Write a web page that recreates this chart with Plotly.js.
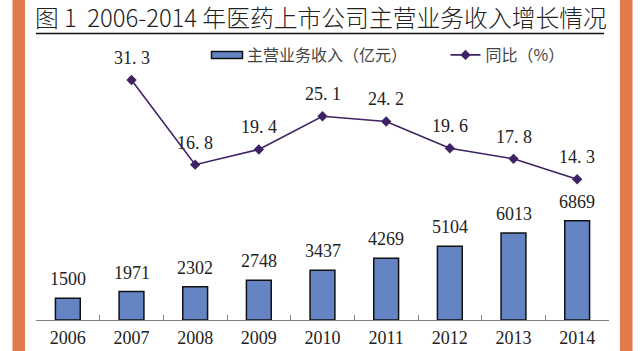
<!DOCTYPE html>
<html>
<head>
<meta charset="utf-8">
<script src="https://cdn.plot.ly/plotly-3.0.1.min.js"></script>
<style>html,body{margin:0;padding:0;background:#fff;}#chart{width:640px;height:351px;}</style>
</head>
<body>
<div id="chart"></div>
<script>
// ---- data ----
var years = ['2006','2007','2008','2009','2010','2011','2012','2013','2014'];
var revenue = [1500, 1971, 2302, 2748, 3437, 4269, 5104, 6013, 6869];
var growthYears = ['2007','2008','2009','2010','2011','2012','2013','2014'];
var growth = [31.3, 16.8, 19.4, 25.1, 24.2, 19.6, 17.8, 14.3];
var revenueName = '主营业务收入（亿元）';
var growthName = '同比（%）';
var titleText = '图 1  2006-2014 年医药上市公司主营业务收入增长情况';

// ---- layout helpers (pixel -> paper) ----
var W = 640, H = 351, L = 36, R = 609, T = 40, B = 320;
function px(x){ return (x - L) / (R - L); }
function py(y){ return (B - y) / (B - T); }

var numFont = {family: '"Liberation Serif", "DejaVu Serif", serif', size: 18, color: '#222'};
var legFont = {family: '"Noto Sans CJK SC", sans-serif', size: 16, color: '#444'};

// annotations on a category axis take the category's serial index
var annotations = [];
revenue.forEach(function(v, i){
  annotations.push({x: years.indexOf(years[i]), y: v, xref: 'x', yref: 'y', text: String(v),
    showarrow: false, yanchor: 'middle', yshift: 19, font: numFont});
});
growth.forEach(function(v, i){
  annotations.push({x: years.indexOf(growthYears[i]), y: v, xref: 'x', yref: 'y2',
    text: v.toFixed(1).replace('.', '. '),
    showarrow: false, yanchor: 'middle', yshift: 22, font: numFont});
});

var traces = [
  {type: 'bar', x: years, y: revenue, name: revenueName, legend: 'legend',
   marker: {color: '#6584C3', line: {color: '#111', width: 1.5}},
   hoverinfo: 'x+y'},
  {type: 'scatter', mode: 'lines+markers', x: growthYears, y: growth, yaxis: 'y2',
   name: growthName, legend: 'legend2',
   line: {color: '#3E2263', width: 1.6},
   marker: {symbol: 'diamond', size: 8, color: '#3E2263'}}
];

var layout = {
  width: W, height: H,
  margin: {l: L, r: W - R, t: T, b: H - B, pad: 0},
  paper_bgcolor: '#fff', plot_bgcolor: 'rgba(0,0,0,0)',
  title: {text: titleText, x: 35 / W, xref: 'container', xanchor: 'left',
          y: 1 - 19 / H, yref: 'container', yanchor: 'middle',
          font: {family: '"Noto Sans CJK SC", sans-serif', size: 23.8, color: '#222', weight: 300}},
  bargap: 0.61,
  showlegend: true,
  legend: {orientation: 'h', x: px(207), xanchor: 'left', y: py(55), yanchor: 'middle',
           bgcolor: 'rgba(0,0,0,0)', borderwidth: 0, itemwidth: 30, font: legFont},
  legend2: {orientation: 'h', x: px(445.5), xanchor: 'left', y: py(55), yanchor: 'middle',
           bgcolor: 'rgba(0,0,0,0)', borderwidth: 0, itemwidth: 30, font: legFont},
  xaxis: {type: 'category', range: [-0.5, years.length - 0.5], showgrid: false, zeroline: false,
          showline: true, linecolor: '#808080', linewidth: 1,
          ticks: 'inside', tickson: 'boundaries', ticklen: 5, tickcolor: '#808080', tickwidth: 1,
          tickfont: numFont, ticklabelstandoff: 1, tickangle: 0, fixedrange: true},
  yaxis: {visible: false, range: [0, 19364], fixedrange: true},
  yaxis2: {visible: false, overlaying: 'y', range: [-9.8, 38.15], fixedrange: true},
  annotations: annotations,
  shapes: [
    {type: 'rect', xref: 'paper', yref: 'paper', x0: px(12.5), x1: px(25), y0: py(H + 2), y1: py(-2),
     fillcolor: '#E27A4D', line: {width: 0}, layer: 'below'},
    {type: 'rect', xref: 'paper', yref: 'paper', x0: px(620), x1: px(632.5), y0: py(H + 2), y1: py(-2),
     fillcolor: '#E27A4D', line: {width: 0}, layer: 'below'},
    {type: 'line', xref: 'paper', yref: 'paper', x0: px(36), x1: px(604), y0: py(33.5), y1: py(33.5),
     line: {color: '#111', width: 1.3}}
  ]
};

Plotly.newPlot('chart', traces, layout, {displayModeBar: false, staticPlot: true}).then(function(gd){
  // widen the bar legend swatch to match the reference
  var pts = gd.querySelectorAll('.legendpoints path.legendundefined, .legendpoints .legendbar path, .legendpoints path.legendbar');
  pts.forEach(function(p){ p.setAttribute('d', 'M15.5,3.5H-15.5V-3.5H15.5Z'); });
});
</script>
</body>
</html>
